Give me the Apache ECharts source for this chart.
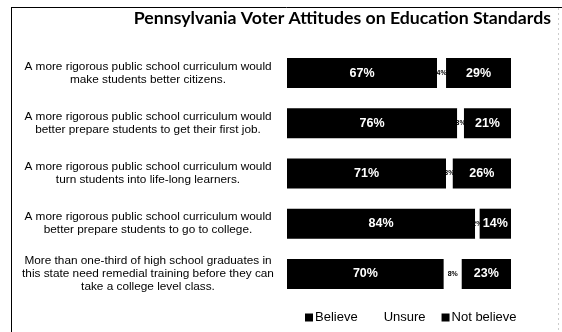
<!DOCTYPE html>
<html>
<head>
<meta charset="utf-8">
<script src="https://cdn.jsdelivr.net/npm/echarts@6/dist/echarts.min.js"></script>
<style>
  html, body { margin: 0; padding: 0; background: #fff; }
  #chart { width: 562px; height: 332px; }
</style>
</head>
<body>
<div id="chart"></div>
<script>
// Survey statements (one per row, top to bottom)
const statements = [
  'A more rigorous public school curriculum would\nmake students better citizens.',
  'A more rigorous public school curriculum would\nbetter prepare students to get their first job.',
  'A more rigorous public school curriculum would\nturn students into life-long learners.',
  'A more rigorous public school curriculum would\nbetter prepare students to go to college.',
  'More than one-third of high school graduates in\nthis state need remedial training before they can\ntake a college level class.'
];
// Response shares in percent
const believe = [67, 76, 71, 84, 70];
const unsure = [4, 3, 3, 2, 8];
const notBelieve = [29, 21, 26, 14, 23];
const seriesNames = ['Believe', 'Unsure', 'Not believe'];

const chart = echarts.init(document.getElementById('chart'));

const bigLabel = {
  show: true,
  position: 'inside',
  color: '#fff',
  fontFamily: 'Liberation Sans, Arial, sans-serif',
  fontSize: 12.5,
  fontWeight: 'bold',
  formatter: p => p.value + '%'
};

chart.setOption({
  animation: false,
  title: {
    text: 'Pennsylvania Voter Attitudes on Education Standards',
    right: 6,
    top: 4,
    textStyle: { fontFamily: 'Lato', fontWeight: 'bold', fontSize: 17.7, color: '#000' }
  },
  legend: {
    data: seriesNames,
    bottom: 3,
    left: 300,
    itemWidth: 8,
    itemHeight: 8,
    itemGap: 16,
    icon: 'rect',
    textStyle: { fontFamily: 'Liberation Sans, Arial, sans-serif', fontSize: 13, color: '#000', padding: [0, 0, 0, -3] }
  },
  grid: { left: 287, right: 51, top: 48, bottom: 33 },
  xAxis: { type: 'value', min: 0, max: 100, show: false },
  yAxis: {
    type: 'category',
    data: statements,
    inverse: true,
    axisLine: { show: false },
    axisTick: { show: false },
    axisLabel: {
      align: 'center',
      margin: 139,
      color: '#000',
      fontFamily: 'Liberation Sans, Arial, sans-serif',
      fontSize: 11.8,
      lineHeight: 13
    }
  },
  graphic: [
    { type: 'line', shape: { x1: 11.5, y1: 7, x2: 11.5, y2: 332 }, style: { stroke: '#000', lineWidth: 1 } },
    { type: 'line', shape: { x1: 11, y1: 7.5, x2: 562, y2: 7.5 }, style: { stroke: '#000', lineWidth: 1 } },
    { type: 'line', shape: { x1: 558.5, y1: 8, x2: 558.5, y2: 332 }, style: { stroke: '#ccc', lineWidth: 1, lineDash: [2, 3] } }
  ],
  series: [
    {
      name: seriesNames[0], type: 'bar', stack: 'all', data: believe, barWidth: 30,
      itemStyle: { color: '#000' }, label: bigLabel
    },
    {
      name: seriesNames[1], type: 'bar', stack: 'all', data: unsure, barWidth: 30,
      itemStyle: { color: '#fff' },
      label: {
        show: true, position: 'inside', color: '#000',
        fontFamily: 'Liberation Sans, Arial, sans-serif', fontSize: 7, fontWeight: 'bold',
        formatter: p => p.value + '%'
      }
    },
    {
      name: seriesNames[2], type: 'bar', stack: 'all', data: notBelieve, barWidth: 30,
      itemStyle: { color: '#000' }, label: bigLabel
    }
  ]
});
</script>
</body>
</html>
